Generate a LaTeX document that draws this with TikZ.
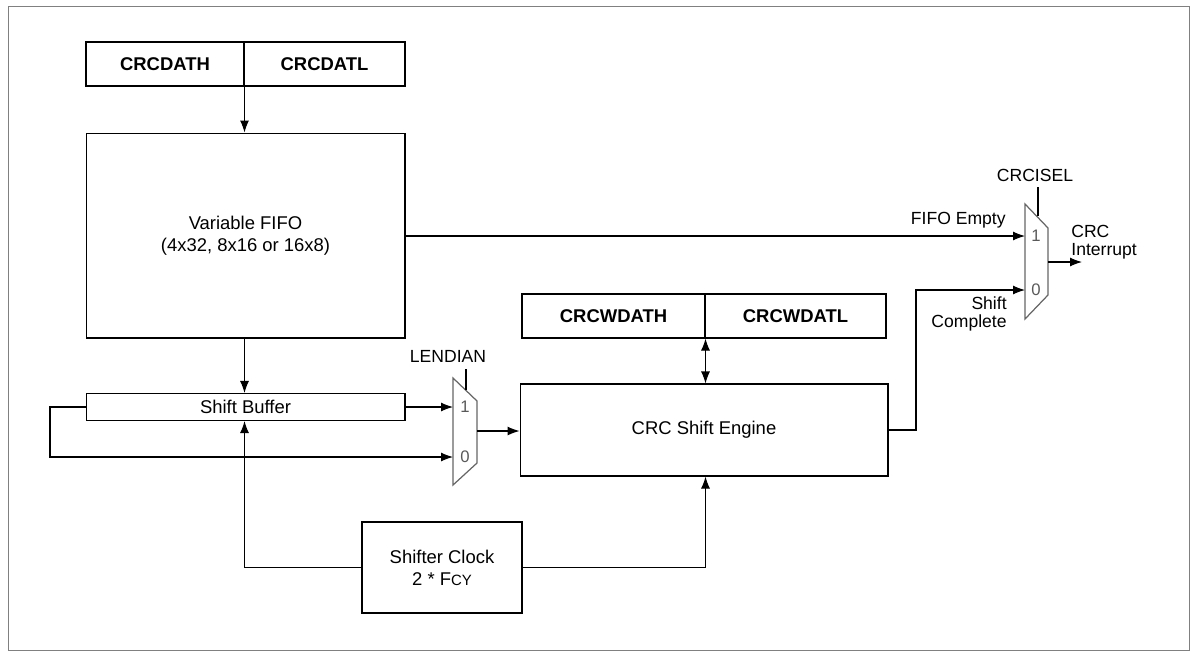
\documentclass[tikz,border=0pt]{standalone}
\usepackage{fontspec}
\setmainfont{Liberation Sans}
\usetikzlibrary{arrows.meta}
\tikzset{box/.style={draw,line width=0.6pt,inner sep=0pt,font=\fontsize{10.5}{12.5}\selectfont,align=center},
reg/.style={box,font=\bfseries\fontsize{10.5}{12}\selectfont,minimum height=0.88cm},
lbl/.style={font=\fontsize{10}{10.5}\selectfont,inner sep=0pt,align=left},
sel/.style={font=\fontsize{9.5}{9.5}\selectfont,inner sep=0pt,gray!70!black},
mux/.style={line width=0.7pt,gray!80!black},
wire/.style={line width=0.6pt,-{Latex[length=2.4mm,width=1.8mm]}}}
\begin{document}
\begin{tikzpicture}[x=0.02cm,y=-0.02cm]
\useasboundingbox(0,0)rectangle(1196,654);
\draw[line width=0.5pt,gray](8,6)rectangle(1189,650);
% registers
\node[reg,minimum width=3.16cm](dath)at(165,64){CRCDATH};
\node[reg,minimum width=3.22cm](datl)at(324.5,64){CRCDATL};
\node[reg,minimum width=3.66cm](wdath)at(613.5,316){CRCWDATH};
\node[reg,minimum width=3.62cm](wdatl)at(795.5,316){CRCWDATL};
% blocks
\node[box,minimum width=6.38cm,minimum height=4.1cm](fifo)at(245.5,235.5){Variable FIFO\\(4x32, 8x16 or 16x8)};
\node[box,minimum width=6.38cm,minimum height=0.54cm](buf)at(245.5,407){Shift Buffer};
\node[box,minimum width=7.36cm,minimum height=1.84cm](eng)at(704,430){CRC Shift Engine};
\node[box,minimum width=3.2cm,minimum height=1.82cm](clk)at(442,567.5){Shifter Clock\\2 * F\textsc{\fontsize{8.5}{8}\selectfont CY}};
% muxes
\draw[mux](453,378)--(477,401)--(477,463)--(453,485)--cycle;
\draw[mux](1025,204)--(1048,228)--(1048,295)--(1025,319)--cycle;
\node[sel]at(465,407){1};\node[sel]at(465,457){0};
\node[sel]at(1036,236){1};\node[sel]at(1036,290){0};
\coordinate(lin1)at(453,407);\coordinate(lin0)at(453,457);\coordinate(lout)at(477,431);
\coordinate(cin1)at(1025,236);\coordinate(cin0)at(1025,290);\coordinate(cout)at(1048,262);
\node[lbl](lendian)at(448,356){LENDIAN};
\node[lbl](crcisel)at(1035,175){CRCISEL};
\draw[line width=0.6pt](466,369)--(466,390);
\draw[line width=0.6pt](1038,187)--(1038,216);
% connectors
\draw[wire](dath.south east)--(fifo.north-|dath.south east);
\draw[wire](fifo.south-|dath.south east)--(buf.north-|dath.south east);
\draw[wire](fifo.east|-cin1)--(cin1);
\node[lbl,anchor=south east]at(1006,228){FIFO Empty};
\draw[wire](eng.east)-|(916,290)--(cin0);
\node[lbl,anchor=north east,align=right]at(1007,296){Shift\\Complete};
\draw[wire](cout)--(1082,262);
\node[lbl,anchor=west](irq)at(1071,242){CRC\\Interrupt};
\draw[wire,{Latex[length=2.4mm,width=1.8mm]}-{Latex[length=2.4mm,width=1.8mm]}](wdath.south east)--(eng.north-|wdath.south east);
\draw[wire](buf.east)--(lin1);
\draw[wire](buf.west)--(50,407)--(50,457)--(lin0);
\draw[wire](lout)--(eng.west|-lout);
\draw[wire](clk.west)-|(buf.south-|dath.south east);
\draw[wire](clk.east)-|(eng.south-|wdath.south east);
\end{tikzpicture}
\end{document}
